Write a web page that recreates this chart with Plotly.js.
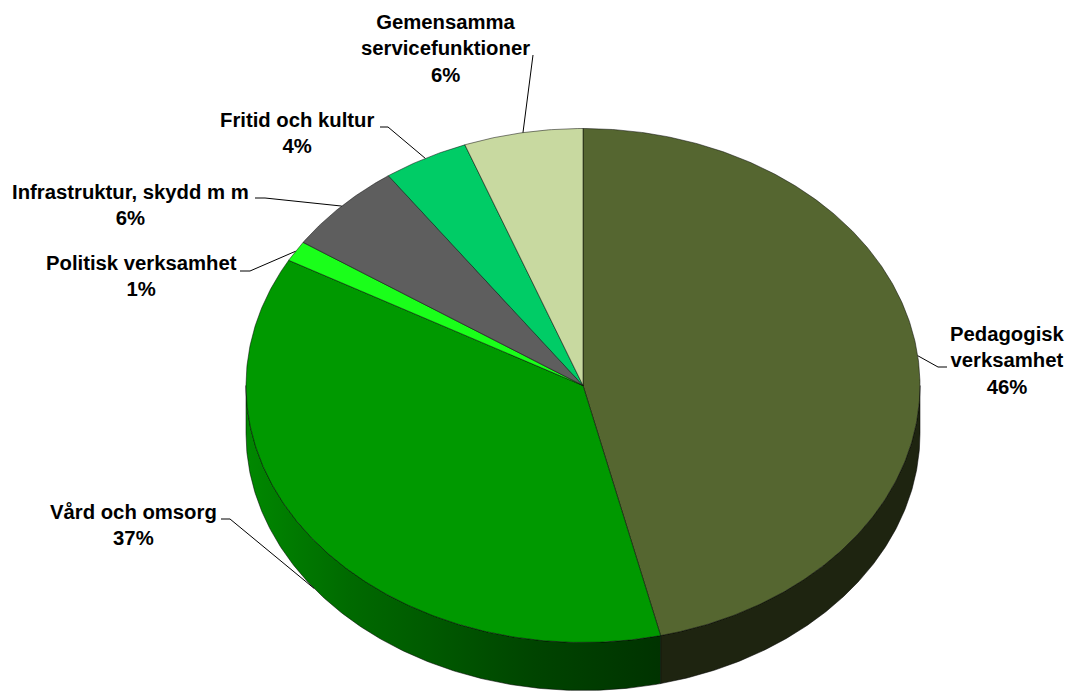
<!DOCTYPE html>
<html>
<head>
<meta charset="utf-8">
<script src="https://cdn.plot.ly/plotly-3.0.1.min.js"></script>
<style>html,body{margin:0;padding:0;background:#fff;}#chart{width:1068px;height:695px;}</style>
</head>
<body>
<div id="chart"></div>
<script>
// ---- data ----
const categories = ['Pedagogisk verksamhet', 'Vård och omsorg', 'Politisk verksamhet', 'Infrastruktur, skydd m m', 'Fritid och kultur', 'Gemensamma servicefunktioner'];
const labelLines = ['Pedagogisk<br>verksamhet', 'Vård och omsorg', 'Politisk verksamhet', 'Infrastruktur, skydd m m', 'Fritid och kultur', 'Gemensamma<br>servicefunktioner'];
const values = [46.3, 36.8, 1.3, 5.8, 4.1, 5.7];
const topColors = ['#556630', '#009900', '#1aff1a', '#5e5e5e', '#00cc66', '#c8d9a0'];
const sideColors = ['#1e2410', '#006600', '#00a000', '#333333', '#008040', '#7f8a66'];

// ---- layout geometry ----
const cx = 583, cy = 385.5, rx = 337, ry = 257, depth = 48;
const labelPos = [[1007, 360], [133, 525], [141, 275.5], [130, 204.5], [297, 133], [445, 48.5]];
const leaderElbows = [[[947, 367], [938, 367]], [[221, 519], [230, 519]], [[240, 271], [250, 271]], [[255, 198], [265, 198]], [[380, 127], [388, 127]], [[533, 55], [533, 55]]];

function pt(deg, dy) {
  const a = deg * Math.PI / 180;
  return [cx + rx * Math.sin(a), cy - ry * Math.cos(a) + (dy || 0)];
}
function arc(a1, a2, dy) {
  const out = [];
  const n = Math.max(2, Math.ceil(Math.abs(a2 - a1) / 0.5));
  for (let i = 0; i <= n; i++) out.push(pt(a1 + (a2 - a1) * i / n, dy));
  return out;
}

const total = values.reduce((s, v) => s + v, 0);
const starts = [], ends = [];
let acc = 0;
values.forEach(v => { starts.push(acc / total * 360); acc += v; ends.push(acc / total * 360); });

const traces = [];
// sides (visible front half: 90..270 deg clockwise from top)
values.forEach((v, i) => {
  const a1 = Math.max(starts[i], 90), a2 = Math.min(ends[i], 270);
  if (a2 <= a1) return;
  const pts = arc(a1, a2, 0).concat(arc(a2, a1, depth));
  pts.push(pts[0]);
  const tr = {
    type: 'scatter', mode: 'lines', fill: 'toself',
    x: pts.map(p => p[0]), y: pts.map(p => p[1]),
    line: {color: 'rgba(0,0,0,0.75)', width: 0.7},
    fillcolor: sideColors[i], hoverinfo: 'skip'
  };
  if (i === 1) {
    tr.fillgradient = {type: 'horizontal', colorscale: [[0, '#008800'], [0.25, '#006a00'], [0.7, '#004400'], [1, '#003300']]};
  }
  traces.push(tr);
});
// tops
values.forEach((v, i) => {
  const pts = [[cx, cy]].concat(arc(starts[i], ends[i], 0));
  pts.push([cx, cy]);
  traces.push({
    type: 'scatter', mode: 'lines', fill: 'toself',
    x: pts.map(p => p[0]), y: pts.map(p => p[1]),
    line: {color: 'rgba(0,0,0,0.7)', width: 0.7},
    fillcolor: topColors[i], hoverinfo: 'skip'
  });
});
// leader lines
values.forEach((v, i) => {
  const mid = (starts[i] + ends[i]) / 2;
  const onSide = mid > 90 && mid < 270 && i === 1;
  const end = pt(mid, onSide ? depth : 0);
  const pts = [leaderElbows[i][0], leaderElbows[i][1], end];
  traces.push({
    type: 'scatter', mode: 'lines',
    x: pts.map(p => p[0]), y: pts.map(p => p[1]),
    line: {color: '#000', width: 1}, hoverinfo: 'skip'
  });
});

const annotations = values.map((v, i) => ({
  x: labelPos[i][0], y: labelPos[i][1], xref: 'x', yref: 'y',
  text: '<b>' + labelLines[i] + '<br>' + Math.round(v / total * 100) + '%</b>',
  showarrow: false, xanchor: 'center', yanchor: 'middle', align: 'center',
  font: {family: 'Liberation Sans, Arial, sans-serif', size: 20.3, color: '#000'}
}));

const layout = {
  width: 1068, height: 695,
  margin: {l: 0, r: 0, t: 0, b: 0},
  paper_bgcolor: '#fff', plot_bgcolor: '#fff',
  showlegend: false, hovermode: false,
  xaxis: {range: [0, 1068], visible: false, fixedrange: true},
  yaxis: {range: [695, 0], visible: false, fixedrange: true},
  annotations: annotations
};
Plotly.newPlot('chart', traces, layout, {displayModeBar: false, staticPlot: true});
</script>
</body>
</html>
